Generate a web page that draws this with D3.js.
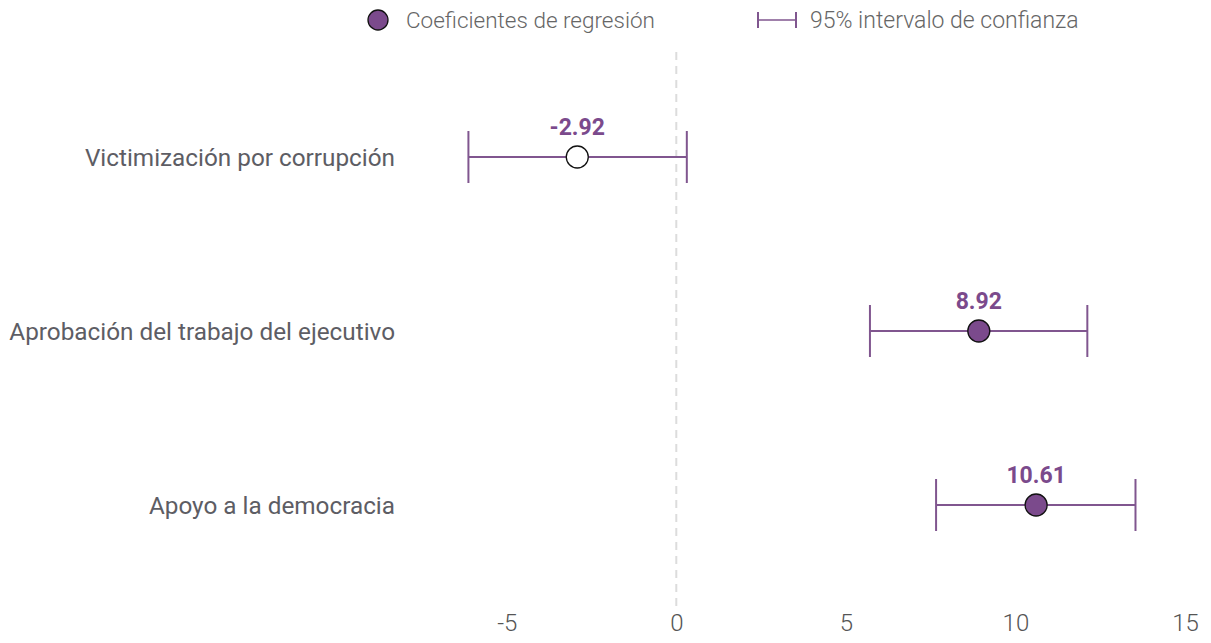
<!DOCTYPE html>
<html>
<head>
<meta charset="utf-8">
<script src="https://cdn.jsdelivr.net/npm/d3@7"></script>
<style>
  body { margin: 0; background: #fff; }
  svg { display: block; font-family: Roboto, "Noto Sans", sans-serif; }
</style>
</head>
<body>
<svg id="chart" width="1211" height="643"></svg>
<script>
// data
var categories = ['Victimización por corrupción', 'Aprobación del trabajo del ejecutivo', 'Apoyo a la democracia'];
var coefs = [-2.92, 8.92, 10.61];
var ciLow = [-6.13, 5.71, 7.66];
var ciHigh = [0.31, 12.12, 13.54];
var significant = [false, true, true];
var xTicks = [-5, 0, 5, 10, 15];

var purple = '#7b4a8c';
var lineCol = '#80568f';

var svg = d3.select('#chart');

var x = d3.scaleLinear().domain([-8, 15]).range([405, 1185]);
var y = d3.scalePoint().domain(categories).range([157, 505]);

var rows = categories.map(function(c, i) {
	return {cat: c, coef: coefs[i], lo: ciLow[i], hi: ciHigh[i], sig: significant[i]};
});

//zero reference line
svg.append('line')
	.attr('x1', x(0)).attr('x2', x(0))
	.attr('y1', 52).attr('y2', 612)
	.style('stroke', '#dcdcdc')
	.style('stroke-width', 2)
	.style('stroke-dasharray', '8,6');

//x axis, labels only
var xAxis = d3.axisBottom(x).tickValues(xTicks).tickSize(0).tickPadding(0)
	.tickFormat(d => String(d));
var gx = svg.append('g').attr('transform', 'translate(0,' + 614 + ')').call(xAxis);
gx.select('.domain').remove();
gx.selectAll('text')
	.attr('dy', '0.71em')
	.style('font-family', 'Roboto, sans-serif')
	.style('font-size', '24px')
	.style('font-weight', 300)
	.style('fill', '#555');

//category labels
svg.append('g').selectAll('text')
	.data(rows)
	.join('text')
	.attr('x', 395)
	.attr('y', d => y(d.cat))
	.attr('dy', '0.35em')
	.attr('text-anchor', 'end')
	.style('font-size', '24.3px')
	.style('fill', '#5d5d64')
	.text(d => d.cat);

//confidence intervals
var g = svg.append('g').selectAll('g')
	.data(rows)
	.join('g');

g.append('line')
	.attr('x1', d => x(d.lo)).attr('x2', d => x(d.hi))
	.attr('y1', d => y(d.cat)).attr('y2', d => y(d.cat))
	.style('stroke', lineCol).style('stroke-width', 2);
g.append('line')
	.attr('x1', d => x(d.lo)).attr('x2', d => x(d.lo))
	.attr('y1', d => y(d.cat) - 26).attr('y2', d => y(d.cat) + 26)
	.style('stroke', lineCol).style('stroke-width', 2);
g.append('line')
	.attr('x1', d => x(d.hi)).attr('x2', d => x(d.hi))
	.attr('y1', d => y(d.cat) - 26).attr('y2', d => y(d.cat) + 26)
	.style('stroke', lineCol).style('stroke-width', 2);

g.append('circle')
	.attr('cx', d => x(d.coef))
	.attr('cy', d => y(d.cat))
	.attr('r', 11)
	.style('fill', d => d.sig ? purple : '#fff')
	.style('stroke', '#111')
	.style('stroke-width', 1.3);

g.append('text')
	.attr('x', d => x(d.coef))
	.attr('y', d => y(d.cat) - 22)
	.attr('text-anchor', 'middle')
	.style('font-size', '23px')
	.style('font-weight', 'bold')
	.style('fill', purple)
	.text(d => d.coef.toFixed(2));

//legend
var leg = svg.append('g');
leg.append('circle')
	.attr('cx', 378).attr('cy', 20).attr('r', 10)
	.style('fill', purple).style('stroke', '#111').style('stroke-width', 1.3);
leg.append('text')
	.attr('x', 406).attr('y', 20).attr('dy', '0.35em')
	.style('font-size', '22.5px').style('font-weight', 300).style('fill', '#666')
	.text('Coeficientes de regresión');
leg.append('line')
	.attr('x1', 758).attr('x2', 796).attr('y1', 20).attr('y2', 20)
	.style('stroke', lineCol).style('stroke-width', 1.5);
[758, 796].forEach(function(px) {
	leg.append('line')
		.attr('x1', px).attr('x2', px).attr('y1', 12).attr('y2', 28)
		.style('stroke', lineCol).style('stroke-width', 2);
});
leg.append('text')
	.attr('x', 810).attr('y', 20).attr('dy', '0.35em')
	.style('font-size', '23px').style('font-weight', 300).style('fill', '#666')
	.text('95% intervalo de confianza');
</script>
</body>
</html>
